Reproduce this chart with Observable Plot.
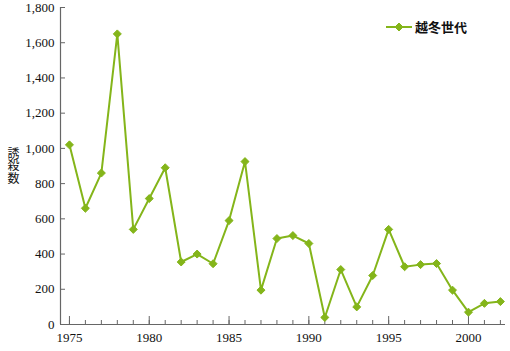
<!DOCTYPE html>
<html><head><meta charset="utf-8">
<script src="https://cdn.jsdelivr.net/npm/d3@7"></script>
<script src="https://cdn.jsdelivr.net/npm/@observablehq/plot@0.6"></script>
<style>
body{margin:0;background:#fff;}
#wrap{position:relative;width:510px;height:351px;overflow:hidden;}
#ylab{position:absolute;left:6px;top:147px;font-family:"Noto Sans CJK JP";font-size:12px;line-height:14px;writing-mode:vertical-rl;text-orientation:upright;letter-spacing:0.5px;color:#111;}
#legend{position:absolute;left:386px;top:17px;display:flex;align-items:center;font-family:"Noto Sans CJK JP";font-size:13px;font-weight:bold;color:#111;}
#legend svg{margin-right:3px;}
#wrap svg.plot text{font-family:"Liberation Serif",serif !important;}
</style>
</head><body>
<div id="wrap">
<div id="ylab">誘殺数</div>
<div id="legend"></div>
</div>
<script>
const years = [1975,1976,1977,1978,1979,1980,1981,1982,1983,1984,1985,1986,1987,1988,1989,1990,1991,1992,1993,1994,1995,1996,1997,1998,1999,2000,2001,2002];
const counts = [1020,660,860,1650,540,715,890,355,400,345,590,925,195,488,505,460,40,312,100,278,540,328,340,346,195,70,120,130];
const seriesName = "越冬世代";
const xMajorTicks = [1975,1980,1985,1990,1995,2000];
const xMinorTicks = years;
const yTicks = [0,200,400,600,800,1000,1200,1400,1600,1800];
const xDomain = [1974.44, 2002.32];
const yDomain = [0, 1800];

const green = "#84b51a";
const axisColor = "#666";
const serif = "Liberation Serif";
const data = years.map((y, i) => ({year: y, count: counts[i]}));

const chart = Plot.plot({
  width: 510, height: 351,
  marginLeft: 60, marginRight: 5, marginTop: 7, marginBottom: 27,
  className: "plot",
  style: {fontFamily: serif, fontSize: "13px", color: "#111", background: "transparent"},
  x: {domain: xDomain, axis: null},
  y: {domain: yDomain, axis: null},
  marks: [
    Plot.ruleY([yDomain[0]], {stroke: axisColor, strokeWidth: 1.2}),
    Plot.ruleX([xDomain[0]], {stroke: axisColor, strokeWidth: 1.2}),
    Plot.axisX(xMinorTicks, {anchor: "bottom", tickSize: -4, tickFormat: () => "", stroke: axisColor, label: null}),
    Plot.axisX(xMajorTicks, {anchor: "bottom", tickSize: -8, tickPadding: 16, tickFormat: d => String(d), stroke: axisColor, fill: "#111", fontFamily: serif, fontSize: 13, label: null}),
    Plot.axisY(yTicks, {anchor: "left", tickSize: -5, tickPadding: 11, tickFormat: d3.format(","), stroke: axisColor, fill: "#111", fontFamily: serif, fontSize: 13, label: null}),
    Plot.line(data, {x: "year", y: "count", stroke: green, strokeWidth: 2}),
    Plot.dot(data, {x: "year", y: "count", symbol: "diamond2", r: 3.6, fill: green, stroke: green, strokeWidth: 1})
  ]
});
document.getElementById("wrap").prepend(chart);
chart.style.position = "absolute"; chart.style.left = "0"; chart.style.top = "0";

// legend
const sw = d3.create("svg").attr("width", 26).attr("height", 12);
sw.append("line").attr("x1", 0).attr("x2", 26).attr("y1", 6).attr("y2", 6).attr("stroke", green).attr("stroke-width", 2);
sw.append("path").attr("d", d3.symbol(d3.symbolDiamond2, Math.PI * 3.6 * 3.6)()).attr("transform", "translate(13,6)").attr("fill", green).attr("stroke", green);
const lg = document.getElementById("legend");
lg.append(sw.node());
const t = document.createElement("span"); t.textContent = seriesName; lg.append(t);
</script>
</body></html>
